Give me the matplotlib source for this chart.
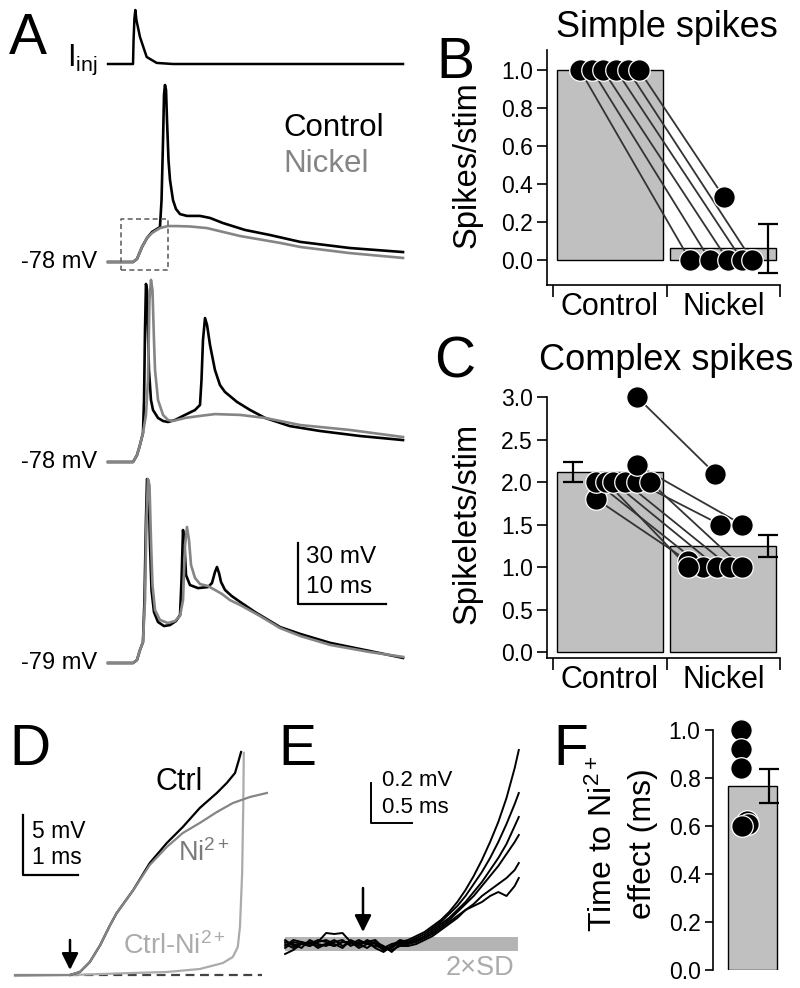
import matplotlib
matplotlib.use("Agg")
import matplotlib.pyplot as plt

plt.rcParams['font.family'] = ['Liberation Sans', 'DejaVu Sans']
plt.rcParams['mathtext.fontset'] = 'custom'
plt.rcParams['mathtext.rm'] = 'Liberation Sans'
plt.rcParams['mathtext.it'] = 'Liberation Sans:italic'
plt.rcParams['mathtext.bf'] = 'Liberation Sans:bold'

# ---------------- data ----------------
# A: injected current (normalised) and voltage traces (ms, mV)
iinj_t = [-2.95, -0.11, -0.05, 0.05, 0.15, 0.28, 0.68, 1.44, 2.58, 4.43, 30.57]
iinj_amp = [0, 0, 0.44, 0.85, 1.0, 0.81, 0.5, 0.13, 0.02, 0, 0]

simple_ni_t = [-2.95, -0.11, 0.34, 0.91, 1.48, 2.05, 2.95, 3.86, 4.89, 6.36, 8.3,
               12.05, 16.6, 18.9, 24.5, 30.57]
simple_ni_v = [-78, -78, -76.5, -70.6, -66.2, -63.7, -61.3, -60.3, -60.3, -60.5, -61.3,
               -65.2, -68.6, -70.6, -73.6, -76.0]
simple_ctrl_t = [-2.95, -0.11, 0.34, 0.91, 1.48, 2.05, 2.61, 2.95, 3.13, 3.30, 3.41, 3.52,
                 3.64, 3.75, 3.92, 4.09, 4.43, 4.77, 5.23, 6.02, 7.5, 8.64, 10.1, 12.6,
                 15.45, 18.9, 24.5, 30.57]
simple_ctrl_v = [-78, -78, -76.5, -70.6, -66.2, -63.2, -61.7, -60.8, -47.5, -17.9, 4.3, 9.2,
                 6.8, -8.0, -27.8, -37.6, -47.5, -51.9, -54.4, -55.3, -55.3, -56.3, -58.8,
                 -62.2, -64.7, -68.1, -71.1, -73.1]

cs1_ni_t = [-2.95, -0.11, 0.34, 0.68, 1.02, 1.36, 1.59, 1.76, 1.93, 2.10, 2.27, 2.39, 2.73,
            3.30, 3.86, 4.43, 5.8, 7.5, 9.2, 12.05, 14.9, 18.9, 24.5, 30.57]
cs1_ni_v = [-78, -78, -74.6, -69.6, -63.7, -54.8, -37.6, 1.8, 11.7, 6.7, -17.9, -32.7, -47.5,
            -54.8, -57.3, -57.8, -56.3, -55.3, -54.4, -54.8, -56.3, -59.8, -62.2, -65.7]
cs1_ctrl_t = [-2.95, -0.11, 0.34, 0.68, 1.02, 1.14, 1.25, 1.36, 1.48, 1.59, 1.70, 1.93, 2.16,
              2.73, 3.30, 3.86, 4.66, 5.8, 6.93, 7.5, 7.67, 7.84, 8.07, 8.3, 8.64, 9.2, 9.77,
              10.34, 11.7, 13.2, 14.9, 17.7, 21.1, 25.7, 30.57]
cs1_ctrl_v = [-78, -78, -74.6, -69.6, -63.7, -47.5, -13.0, 9.7, 6.8, -13.0, -32.7, -47.5, -52.4,
              -56.3, -57.8, -58.3, -57.3, -54.8, -52.4, -49.9, -37.6, -17.9, -7.1, -10.5,
              -20.4, -32.7, -40.1, -43.5, -48.4, -52.4, -56.3, -60.3, -62.7, -65.2, -67.2]

cs2_ni_t = [-2.95, -0.11, 0.34, 0.68, 1.02, 1.25, 1.42, 1.59, 1.76, 1.93, 2.10, 2.39, 2.95,
            3.86, 4.66, 5.23, 5.57, 5.8, 6.02, 6.25, 6.48, 6.93, 7.5, 8.41, 9.2, 10.0, 10.9,
            12.05, 14.3, 16.6, 18.9, 22.3, 26.8, 30.57]
cs2_ni_v = [-79, -79, -77.5, -72.6, -68.7, -48.0, -8.6, 11.6, 8.6, -18.4, -40.6, -52.9, -57.8,
            -59.3, -58.3, -55.8, -48.0, -20.9, -12.0, -18.4, -30.7, -37.1, -40.1, -41.1,
            -43.0, -45.0, -48.0, -50.4, -55.8, -61.8, -65.7, -70.1, -73.6, -76.0]
cs2_ctrl_t = [-2.95, -0.11, 0.34, 0.68, 1.02, 1.19, 1.36, 1.48, 1.65, 1.82, 1.99, 2.27, 2.73,
              3.41, 4.09, 4.77, 5.23, 5.4, 5.57, 5.74, 5.91, 6.36, 7.27, 8.41, 8.86, 9.2,
              9.43, 9.66, 9.89, 10.34, 11.1, 12.05, 13.75, 16.6, 18.9, 22.3, 26.8, 30.57]
cs2_ctrl_v = [-79, -79, -77.5, -72.6, -68.7, -48.0, -8.6, 11.6, 8.6, -20.9, -43.0, -53.9, -58.8,
              -60.8, -60.3, -58.3, -55.4, -38.1, -13.5, -20.9, -35.7, -40.6, -42.1, -41.6,
              -39.6, -34.2, -31.7, -34.7, -39.1, -43.0, -46.0, -48.9, -53.9, -61.3, -64.7,
              -69.1, -73.1, -76.5]

# B: simple spikes per stimulus
groups = ["Control", "Nickel"]
b_means = [1.0, 0.063]
b_sem = [0.0, 0.13]
b_ctrl = [1.0, 1.0, 1.0, 1.0, 1.0, 1.0]
b_ni = [0.0, 0.0, 0.0, 0.0, 0.0, 0.33]

# C: spikelets per stimulus (paired cells)
c_means = [2.12, 1.25]
c_sem = [0.115, 0.13]
c_ctrl = [1.8, 2.0, 2.0, 2.0, 2.0, 2.0, 2.2, 2.0, 3.0]
c_ni = [1.07, 1.0, 1.0, 1.0, 1.0, 1.5, 1.5, 1.0, 2.1]

# D: onset of Ctrl, Ni2+ and difference (ms, mV)
d_ni_t = [-1.0, 0.0, 0.18, 0.36, 0.55, 0.73, 0.85, 1.15, 1.45, 1.76, 2.05, 2.36, 2.67,
          2.96, 3.27, 3.58]
d_ni_v = [0.0, 0.0, 0.25, 1.08, 2.5, 4.17, 5.17, 7.08, 9.17, 10.67, 11.83, 12.67, 13.58,
          14.33, 14.83, 15.17]
d_ctrl_t = [0.0, 0.18, 0.36, 0.55, 0.73, 0.85, 1.15, 1.45, 1.76, 2.05, 2.36, 2.67, 2.85,
            3.0, 3.07, 3.11]
d_ctrl_v = [0.0, 0.25, 1.08, 2.5, 4.17, 5.17, 7.08, 9.33, 11.0, 12.33, 13.92, 15.17, 16.0,
            16.83, 17.92, 18.58]
d_diff_t = [-1.0, 0.0, 0.55, 1.15, 1.76, 2.36, 2.78, 2.96, 3.05, 3.09, 3.13, 3.15, 3.16]
d_diff_v = [-0.08, 0.0, 0.08, 0.17, 0.25, 0.5, 1.0, 1.5, 2.33, 4.0, 8.5, 14.0, 18.5]

# E: difference traces of single cells (ms, mV)
e_t = [-0.95, -0.85, -0.75, -0.65, -0.55, -0.45, -0.35, -0.25, -0.15, -0.05, 0.05, 0.15,
       0.25, 0.35, 0.45, 0.55, 0.65, 0.75, 0.85, 0.95, 1.05, 1.15, 1.25, 1.35, 1.45, 1.55,
       1.65, 1.75, 1.85, 1.9]
e_traces = [
    [0.00, -0.02, 0.01, 0.00, 0.02, 0.01, -0.01, 0.01, 0.00, 0.02, 0.00, -0.01, -0.02, 0.00,
     0.01, 0.02, 0.04, 0.06, 0.09, 0.12, 0.16, 0.21, 0.27, 0.34, 0.42, 0.51, 0.61, 0.73,
     0.88, 0.97],
    [-0.02, 0.01, 0.00, -0.01, 0.01, 0.055, 0.05, 0.055, 0.01, -0.01, 0.02, 0.00, -0.03,
     -0.01, 0.00, 0.01, 0.03, 0.05, 0.08, 0.11, 0.15, 0.19, 0.24, 0.30, 0.36, 0.43, 0.51,
     0.60, 0.70, 0.755],
    [-0.05, -0.03, 0.00, 0.01, -0.01, 0.00, 0.02, -0.01, 0.01, 0.00, -0.02, 0.01, -0.03,
     -0.02, 0.01, 0.00, 0.02, 0.04, 0.07, 0.10, 0.13, 0.17, 0.21, 0.26, 0.31, 0.37, 0.43,
     0.50, 0.59, 0.635],
    [0.01, 0.00, -0.02, 0.02, 0.00, -0.01, 0.01, 0.02, -0.01, 0.01, 0.01, -0.02, -0.04,
     -0.01, 0.02, 0.01, 0.02, 0.03, 0.06, 0.09, 0.12, 0.16, 0.20, 0.24, 0.29, 0.34, 0.39,
     0.45, 0.51, 0.545],
    [-0.01, 0.02, 0.01, -0.01, 0.01, 0.02, 0.00, -0.02, 0.02, 0.00, 0.01, 0.02, -0.02,
     -0.03, -0.01, -0.01, 0.00, 0.02, 0.04, 0.07, 0.10, 0.13, 0.17, 0.20, 0.24, 0.27, 0.30,
     0.33, 0.37, 0.405],
    [0.02, -0.01, 0.00, 0.01, -0.02, 0.00, -0.01, 0.01, 0.01, -0.02, 0.00, 0.01, -0.01,
     -0.04, 0.00, 0.00, 0.01, 0.03, 0.05, 0.08, 0.11, 0.14, 0.17, 0.19, 0.21, 0.24, 0.26,
     0.24, 0.29, 0.33],
]
e_sd2 = 0.035   # 2 x SD band (mV)

# F: time to Ni2+ effect (ms)
f_vals = [1.0, 0.92, 0.84, 0.62, 0.61, 0.60]
f_mean = 0.767
f_sem = 0.07

# ---------------- layout helpers ----------------
W, H = 800, 988
fig = plt.figure(figsize=(W / 100, H / 100), dpi=100)


def px_rect(x0, y0, x1, y1):
    return [x0 / W, 1 - y1 / H, (x1 - x0) / W, (y1 - y0) / H]


def ftext(x, y, s, **kw):
    fig.text(x / W, 1 - y / H, s, **kw)


GRAY = '#858585'
LIGHT = '#ababab'
BAR = '#c0c0c0'
DOT = dict(marker='o', ls='none', ms=15.5, mfc='black', mec='white', mew=0.9,
           clip_on=False, zorder=4)
TICK_FS = 16.5

# ---------------- panel A ----------------
xl_a = ((100 - 134) / 8.8, (420 - 134) / 8.8)
ax_i = fig.add_axes(px_rect(100, 0, 420, 70))
ax_i.plot(iinj_t, iinj_amp, color='black', lw=1.8)
ax_i.set_xlim(*xl_a)
ax_i.set_ylim(-(70 - 64) / 54, 64 / 54)
ax_i.axis('off')

ax_a = fig.add_axes(px_rect(100, 70, 420, 680))
ax_a.set_xlim(*xl_a)
ax_a.set_ylim(0, (680 - 70) / 2.03)
ax_a.axis('off')
rows = [(262, -78, simple_ctrl_t, simple_ctrl_v, simple_ni_t, simple_ni_v),
        (462, -78, cs1_ctrl_t, cs1_ctrl_v, cs1_ni_t, cs1_ni_v),
        (663, -79, cs2_ctrl_t, cs2_ctrl_v, cs2_ni_t, cs2_ni_v)]
for yb, vr, ct, cv, nt, nv in rows:
    off = (680 - yb) / 2.03 - vr
    ax_a.plot(ct, [v + off for v in cv], color='black', lw=1.9)
    ax_a.plot(nt, [v + off for v in nv], color=GRAY, lw=1.9)
    ftext(97, yb, f"{vr} mV", ha='right', va='center', fontsize=17)

# dashed box around the simple-spike onset
bx0, bx1 = (121 - 134) / 8.8, (168 - 134) / 8.8
by0, by1 = (680 - 270) / 2.03, (680 - 219) / 2.03
ax_a.plot([bx0, bx1, bx1, bx0, bx0], [by0, by0, by1, by1, by0], color='#666666',
          lw=1.2, ls=(0, (3, 2)))
# scale bar 30 mV / 10 ms
sx = (298 - 134) / 8.8
sy = (680 - 604) / 2.03
ax_a.plot([sx, sx, sx + 10], [sy + 30, sy, sy], color='black', lw=1.6)
ftext(306, 557, "30 mV", ha='left', va='center', fontsize=17.5)
ftext(306, 587, "10 ms", ha='left', va='center', fontsize=17.5)

ftext(98, 60, r"I$_{\mathrm{inj}}$", ha='right', va='center', fontsize=22)
ftext(283, 128, "Control", ha='left', va='center', fontsize=22.5, color='black')
ftext(283, 164, "Nickel", ha='left', va='center', fontsize=22.5, color=GRAY)


# ---------------- bar panels ----------------
def style_bar_axes(ax, yticks, ylabel_pos, ylabel, label_pad):
    for s in ('top', 'right'):
        ax.spines[s].set_visible(False)
    for s in ('left', 'bottom'):
        ax.spines[s].set_linewidth(1.2)
    ax.set_yticks(yticks)
    ax.set_yticklabels([f"{v:.1f}" for v in yticks])
    ax.tick_params(axis='y', direction='out', length=7, width=1.2, labelsize=TICK_FS, pad=3)
    ax.set_xticks([-0.5, 0.5, 1.5])
    ax.set_xticklabels([])
    ax.tick_params(axis='x', which='major', direction='out', length=8.5, width=1.2)
    ax.set_xticks([0, 1], minor=True)
    ax.set_xticklabels(groups, minor=True)
    ax.tick_params(axis='x', which='minor', length=0, labelsize=22, pad=label_pad)
    ax.set_xlim(-0.553, 1.5)
    ftext(ylabel_pos[0], ylabel_pos[1], ylabel, rotation=90, ha='center', va='center',
          fontsize=23.5)


def paired(ax, ctrl, ni, ctrl_x, ni_x):
    for x0, y0, x1, y1 in zip(ctrl_x, ctrl, ni_x, ni):
        ax.plot([x0, x1], [y0, y1], color='#333333', lw=1.3, zorder=2)
    ax.plot(ctrl_x, ctrl, **DOT)
    ax.plot(ni_x, ni, **DOT)


# B
ax_b = fig.add_axes(px_rect(547, 50, 780, 285))
ax_b.bar([0, 1], b_means, width=0.93, color=BAR, edgecolor='black', lw=1, zorder=1)
paired(ax_b, b_ctrl, b_ni,
       [-0.262, -0.156, -0.06, 0.055, 0.16, 0.258],
       [0.707, 0.883, 1.04, 1.165, 1.253, 1.007])
ax_b.errorbar(1.394, b_means[1], yerr=b_sem[1], color='black', capsize=7,
              elinewidth=1.6, capthick=1.6, zorder=3)
ax_b.set_ylim(-0.13, 1.105)
style_bar_axes(ax_b, [0, 0.2, 0.4, 0.6, 0.8, 1.0], (467, 165), "Spikes/stim", 5)
ftext(667, 37, "Simple spikes", ha='center', va='baseline', fontsize=26)

# C
ax_c = fig.add_axes(px_rect(547, 397, 780, 658))
ax_c.bar([0, 1], c_means, width=0.93, color=BAR, edgecolor='black', lw=1, zorder=1)
paired(ax_c, c_ctrl, c_ni,
       [-0.121, -0.121, -0.03, 0.029, 0.134, 0.24, 0.24, 0.355, 0.24],
       [0.689, 0.822, 0.689, 0.945, 1.06, 0.971, 1.165, 1.165, 0.927])
ax_c.errorbar([-0.324, 1.394], c_means, yerr=c_sem, fmt='none', ecolor='black', capsize=7,
              elinewidth=1.6, capthick=1.6, zorder=3)
ax_c.set_ylim(-(658 - 652) / 85, 3.0)
style_bar_axes(ax_c, [0, 0.5, 1.0, 1.5, 2.0, 2.5, 3.0], (467, 523), "Spikelets/stim", 5)
ftext(666, 370, "Complex spikes", ha='center', va='baseline', fontsize=26)

# ---------------- panel D ----------------
ax_d = fig.add_axes(px_rect(0, 700, 280, 988))
ax_d.set_xlim(-70 / 55, 210 / 55)
ax_d.set_ylim(-(988 - 975) / 12, (975 - 700) / 12)
ax_d.axis('off')
ax_d.plot([0, (262 - 70) / 55], [0, 0], color='#444444', lw=1.6, ls=(0, (4, 2.5)))
ax_d.plot(d_diff_t, d_diff_v, color=LIGHT, lw=1.6)
ax_d.plot(d_ctrl_t, d_ctrl_v, color='black', lw=1.6)
ax_d.plot(d_ni_t, d_ni_v, color=GRAY, lw=1.6)
ax_d.annotate('', xy=(0, 0.42), xytext=(0, 2.92),
              arrowprops=dict(arrowstyle='-|>,head_length=0.5,head_width=0.25',
                              color='black', lw=1.8, shrinkA=0, shrinkB=0,
                              mutation_scale=20))
dsx, dsy = (23 - 70) / 55, (975 - 875) / 12
ax_d.plot([dsx, dsx, dsx + 1], [dsy + 5, dsy, dsy], color='black', lw=1.6)
ftext(32, 832, "5 mV", ha='left', va='center', fontsize=16.5)
ftext(32, 857, "1 ms", ha='left', va='center', fontsize=16.5)
ftext(179, 782, "Ctrl", ha='center', va='center', fontsize=22, color='black')
ftext(178, 853, r"Ni$^{2+}$", ha='left', va='center', fontsize=19.5, color='#7a7a7a')
ftext(123, 946, r"Ctrl-Ni$^{2+}$", ha='left', va='center', fontsize=19.5, color=LIGHT)

# ---------------- panel E ----------------
ax_e = fig.add_axes(px_rect(270, 700, 560, 988))
ax_e.set_xlim((270 - 363) / 82, (560 - 363) / 82)
ax_e.set_ylim((944 - 988) / 200, (944 - 700) / 200)
ax_e.axis('off')
ax_e.fill_between([(285 - 363) / 82, (518 - 363) / 82], -e_sd2, e_sd2, color='#b4b4b4',
                  lw=0)
for tr in e_traces:
    ax_e.plot(e_t, tr, color='black', lw=1.4)
ax_e.annotate('', xy=(0, 0.06), xytext=(0, 0.28),
              arrowprops=dict(arrowstyle='-|>,head_length=0.5,head_width=0.25',
                              color='black', lw=1.8, shrinkA=0, shrinkB=0,
                              mutation_scale=20))
esx, esy = (371 - 363) / 82, (944 - 823) / 200
ax_e.plot([esx, esx, esx + 0.5], [esy + 0.2, esy, esy], color='black', lw=1.4)
ftext(382, 780, "0.2 mV", ha='left', va='center', fontsize=16)
ftext(382, 807, "0.5 ms", ha='left', va='center', fontsize=16)
ftext(480, 968, "2×SD", ha='center', va='center', fontsize=19.5, color=LIGHT)

# ---------------- panel F ----------------
ax_f = fig.add_axes(px_rect(713, 730, 790, 970))
ax_f.bar([0], [f_mean], width=1.0, color=BAR, edgecolor='black', lw=1, zorder=1)
ax_f.errorbar([0.33], [f_mean], yerr=[f_sem], fmt='none', ecolor='black', capsize=7,
              elinewidth=1.6, capthick=1.6, zorder=3)
ax_f.plot([-0.23, -0.23, -0.23, -0.12, -0.09, -0.22], f_vals, **DOT)
ax_f.set_xlim(-0.806, 0.765)
ax_f.set_ylim(0, 1.0)
for s in ('top', 'right', 'bottom'):
    ax_f.spines[s].set_visible(False)
ax_f.spines['left'].set_linewidth(1.2)
ax_f.set_xticks([])
f_ticks = [0, 0.2, 0.4, 0.6, 0.8, 1.0]
ax_f.set_yticks(f_ticks)
ax_f.set_yticklabels([f"{v:.1f}" for v in f_ticks])
ax_f.tick_params(axis='y', direction='out', length=6, width=1.2, labelsize=TICK_FS, pad=3)
ftext(603, 844, r"Time to Ni$^{2+}$", rotation=90, ha='center', va='center', fontsize=23)
ftext(643, 844, "effect (ms)", rotation=90, ha='center', va='center', fontsize=23)

# ---------------- panel letters ----------------
for letter, (lx, ly) in {'A': (28, 39), 'B': (455, 63), 'C': (455, 362),
                         'D': (30, 750), 'E': (297, 750), 'F': (571, 750)}.items():
    ftext(lx, ly, letter, ha='center', va='center', fontsize=41)

fig.savefig("out.png", dpi=100)
